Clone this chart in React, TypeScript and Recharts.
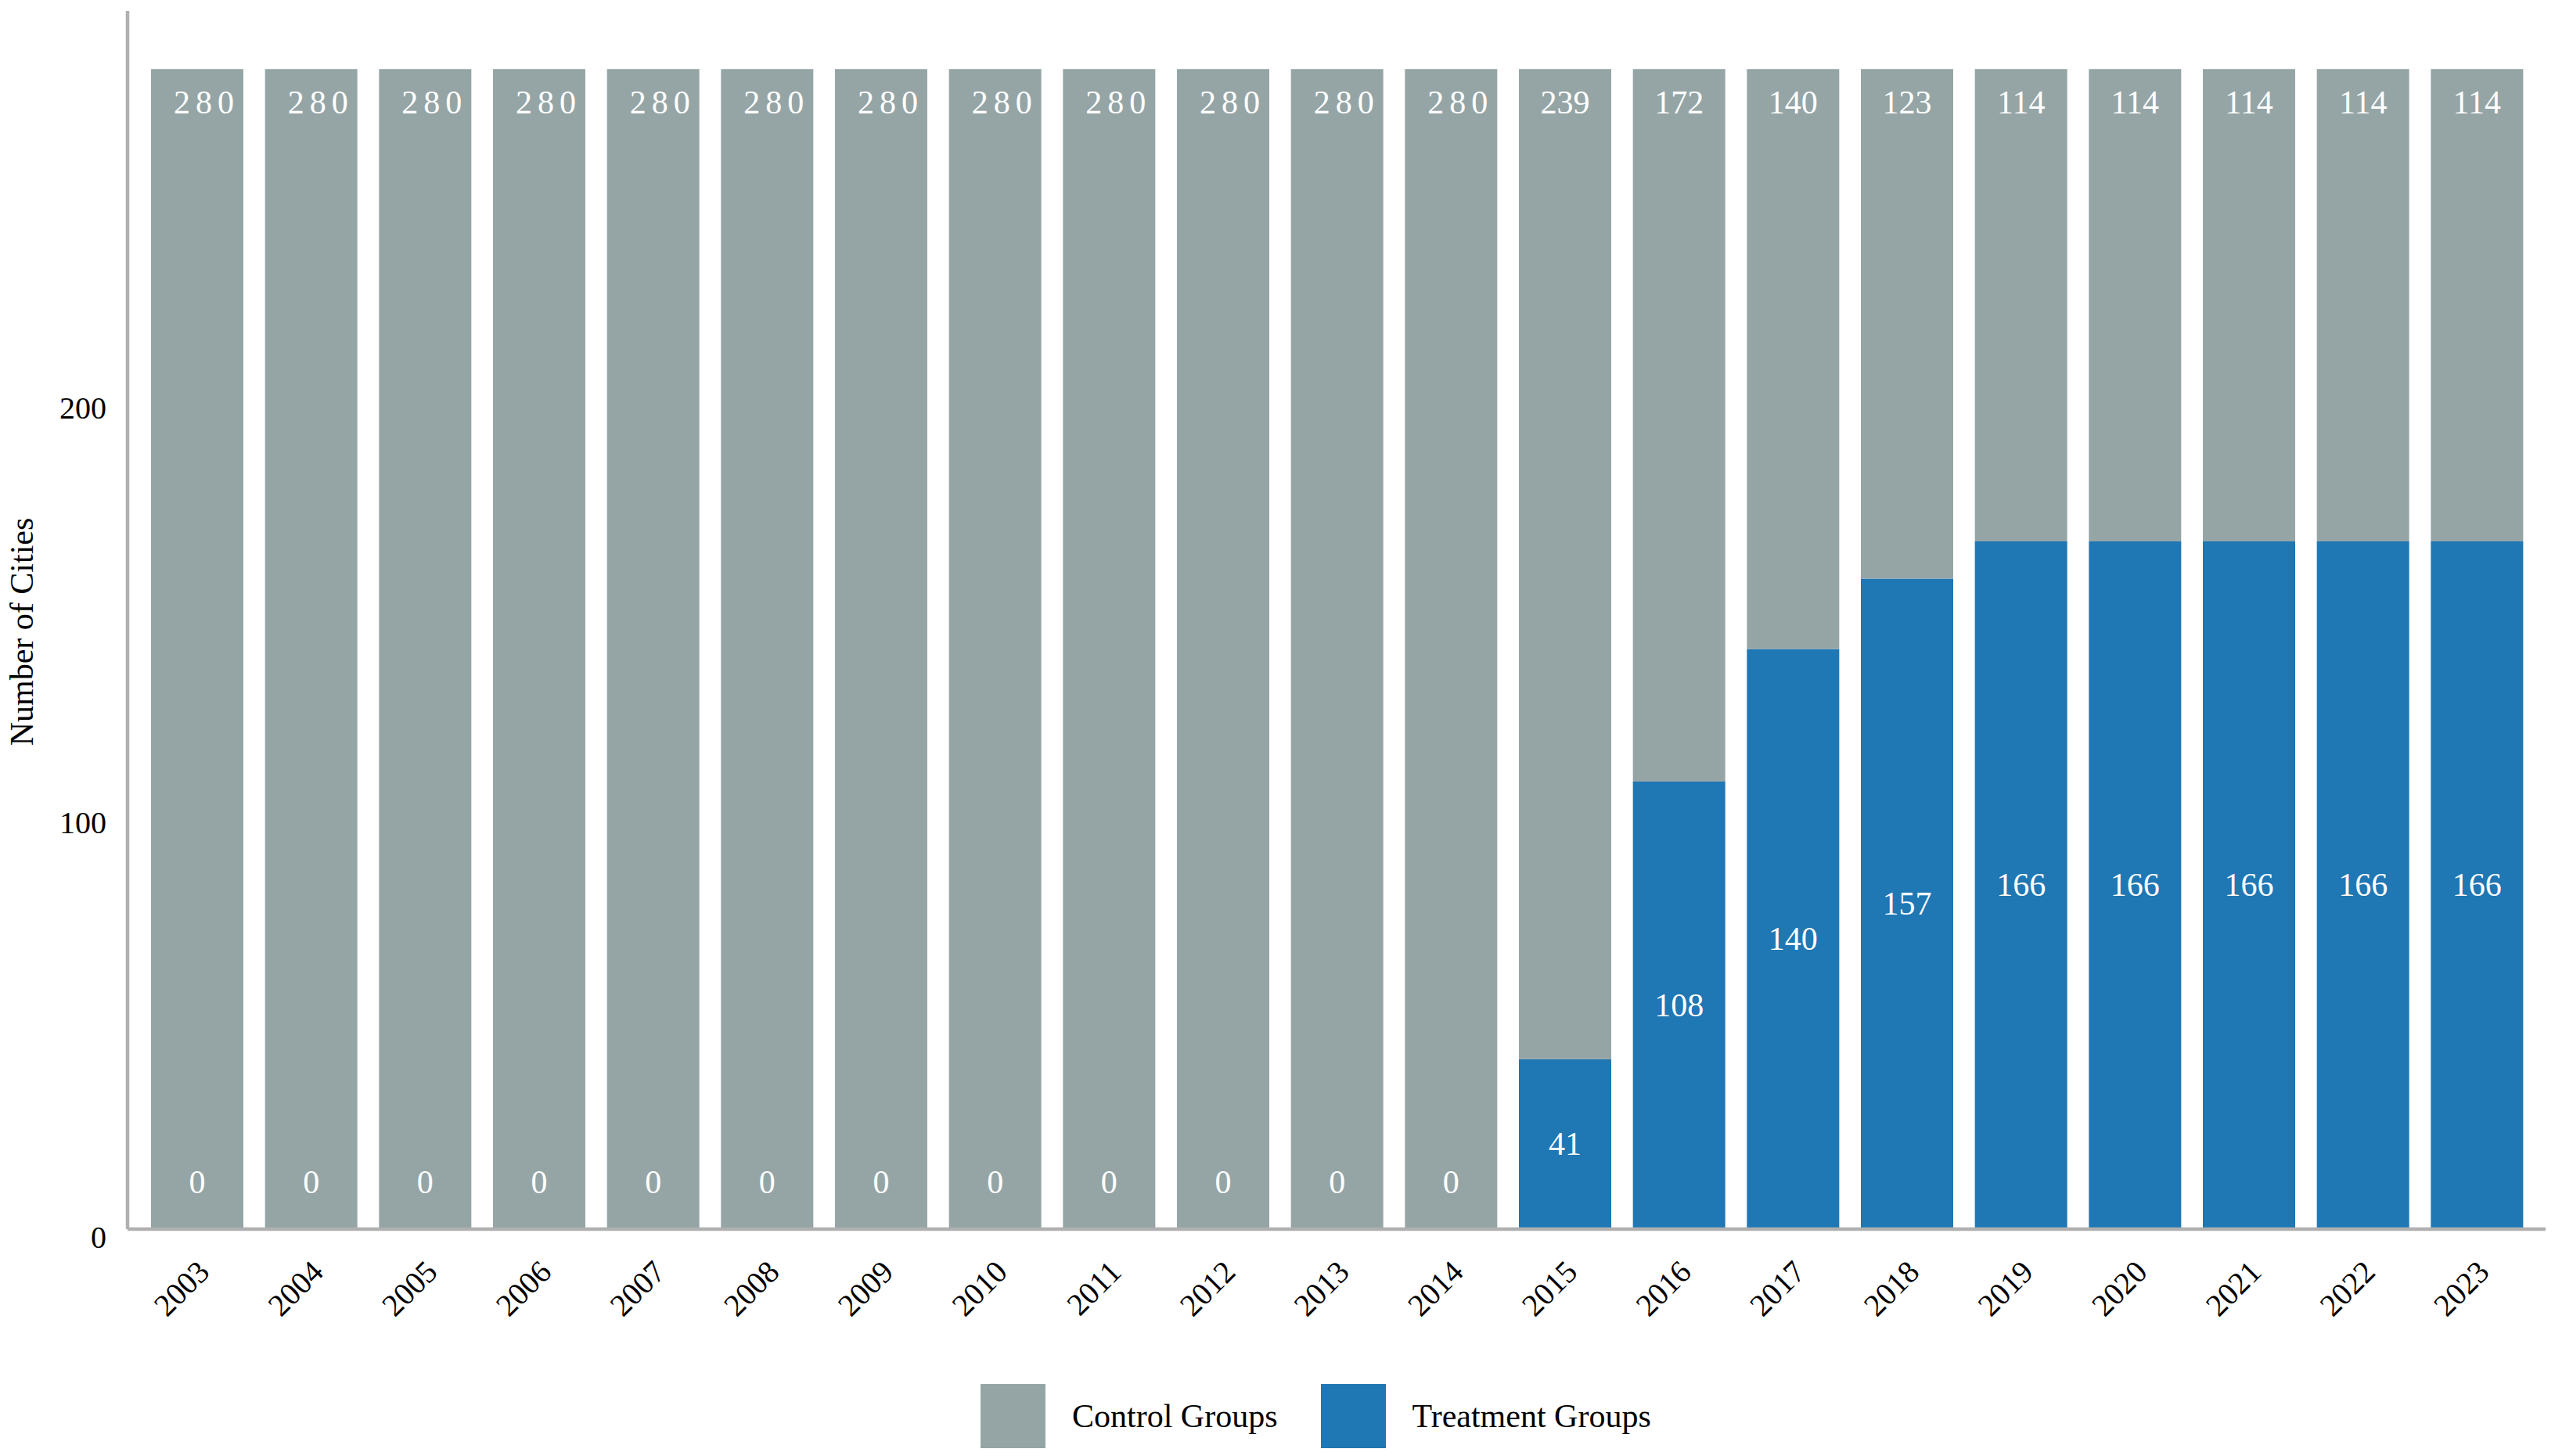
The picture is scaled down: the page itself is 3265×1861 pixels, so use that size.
import React from 'react';
import { BarChart, Bar, XAxis, YAxis, Legend, LabelList } from 'recharts';

const years = [
  '2003', '2004', '2005', '2006', '2007', '2008', '2009', '2010', '2011', '2012', '2013',
  '2014', '2015', '2016', '2017', '2018', '2019', '2020', '2021', '2022', '2023',
];
const treatmentCities = [0, 0, 0, 0, 0, 0, 0, 0, 0, 0, 0, 0, 41, 108, 140, 157, 166, 166, 166, 166, 166];
const controlCities = [280, 280, 280, 280, 280, 280, 280, 280, 280, 280, 280, 280, 239, 172, 140, 123, 114, 114, 114, 114, 114];
const countTicks = [0, 100, 200];
const countMax = 294;
const legendOrder = ['Control Groups', 'Treatment Groups'];

const data = years.map((year, i) => ({
  year,
  treatment: treatmentCities[i],
  control: controlCities[i],
}));

const FONT = '"Liberation Serif", "Times New Roman", serif';
const GREY = '#95a5a6';
const BLUE = '#1f77b4';
const AXIS = '#b0b0b0';

function YearTick(props: any) {
  const { x, y, payload } = props;
  const tx = x + 18;
  const ty = y + 57;
  return (
    <text
      x={tx}
      y={ty}
      transform={`rotate(-45 ${tx} ${ty})`}
      textAnchor="end"
      fontSize={40}
      fontFamily={FONT}
      fill="#000"
    >
      {payload.value}
    </text>
  );
}

function CountTick(props: any) {
  const { x, y, payload } = props;
  return (
    <text x={x} y={y + 10} textAnchor="end" dominantBaseline="central" fontSize={40} fontFamily={FONT} fill="#000">
      {payload.value}
    </text>
  );
}

// control value sits near the top of the grey segment
function ControlLabel(props: any) {
  const { x, y, width, height, value } = props;
  const top = Math.min(y, y + height);
  const spaced = value === 280;
  return (
    <text
      x={x + width / 2 + (spaced ? 12 : 0)}
      y={top + 43}
      textAnchor="middle"
      dominantBaseline="central"
      fontSize={42}
      fontFamily={FONT}
      letterSpacing={spaced ? 7 : 0}
      fill="#fff"
    >
      {value}
    </text>
  );
}

// zero-height treatment bars draw nothing, so their "0" is hung off the grey bar
function ZeroTreatmentLabel(props: any) {
  const { x, y, width, height, value } = props;
  if (value !== 0) return null;
  const bottom = Math.max(y, y + height);
  return (
    <text x={x + width / 2} y={bottom - 60} textAnchor="middle" dominantBaseline="central" fontSize={42} fontFamily={FONT} fill="#fff">
      {value}
    </text>
  );
}

function TreatmentLabel(props: any) {
  const { x, y, width, height, value } = props;
  if (!value) return null;
  const top = Math.min(y, y + height);
  const bottom = Math.max(y, y + height);
  return (
    <text x={x + width / 2} y={(top + bottom) / 2} textAnchor="middle" dominantBaseline="central" fontSize={42} fontFamily={FONT} fill="#fff">
      {value}
    </text>
  );
}

function GroupLegend(props: any) {
  const items = [...(props.payload ?? [])].sort(
    (a: any, b: any) => legendOrder.indexOf(a.value) - legendOrder.indexOf(b.value),
  );
  return (
    <div
      style={{
        display: 'flex',
        alignItems: 'flex-start',
        height: 92,
        paddingLeft: 1253,
        boxSizing: 'border-box',
        fontFamily: FONT,
      }}
    >
      {items.map((item: any, i: number) => (
        <div key={item.value} style={{ display: 'flex', alignItems: 'center', marginLeft: i ? 55 : 0 }}>
          <span style={{ display: 'inline-block', width: 83, height: 82, background: item.color }} />
          <span style={{ marginLeft: 34, fontSize: 42, color: '#000', lineHeight: 1 }}>{item.value}</span>
        </div>
      ))}
    </div>
  );
}

function AxisTitle(props: any) {
  const vb = props.viewBox ?? { x: 0, y: 14, width: 163, height: 1557 };
  const cx = vb.x + 28;
  const cy = vb.y + vb.height / 2 + 15;
  return (
    <text
      x={cx}
      y={cy}
      transform={`rotate(-90 ${cx} ${cy})`}
      textAnchor="middle"
      dominantBaseline="central"
      fontSize={42}
      fontFamily={FONT}
      fill="#000"
    >
      Number of Cities
    </text>
  );
}

export default function App() {
  return (
    <div style={{ position: 'absolute', left: 0, top: 0, width: 3265, height: 1861, background: '#fff' }}>
      <BarChart
        width={3265}
        height={1861}
        data={data}
        margin={{ top: 14, right: 12, bottom: 0, left: 0 }}
        style={{ fontFamily: FONT }}
      >
        <XAxis
          dataKey="year"
          height={198}
          padding={{ left: 16, right: 15 }}
          axisLine={{ stroke: AXIS, strokeWidth: 4.5 }}
          tickLine={false}
          tickSize={0}
          tickMargin={0}
          interval={0}
          tick={YearTick}
        />
        <YAxis
          width={163}
          domain={[0, countMax]}
          ticks={countTicks}
          axisLine={{ stroke: AXIS, strokeWidth: 4.5 }}
          tickLine={false}
          tickSize={0}
          tickMargin={27}
          tick={CountTick}
          label={{ content: AxisTitle }}
        />
        <Legend verticalAlign="bottom" align="left" content={GroupLegend} />
        <Bar dataKey="treatment" name="Treatment Groups" stackId="cities" fill={BLUE} barSize={118} isAnimationActive={false}>
          <LabelList dataKey="treatment" content={TreatmentLabel} />
        </Bar>
        <Bar dataKey="control" name="Control Groups" stackId="cities" fill={GREY} barSize={118} isAnimationActive={false}>
          <LabelList dataKey="control" content={ControlLabel} />
          <LabelList dataKey="treatment" content={ZeroTreatmentLabel} />
        </Bar>
      </BarChart>
    </div>
  );
}
